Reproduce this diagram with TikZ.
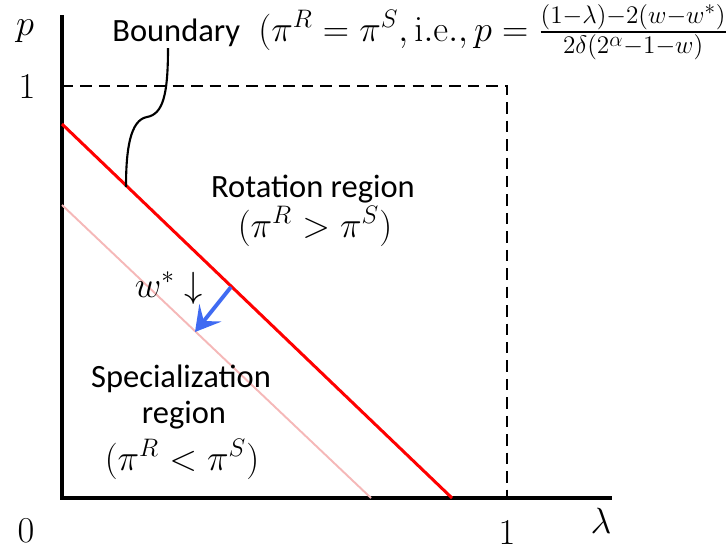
\documentclass[tikz,border=0pt]{standalone}
\usepackage[no-math]{fontspec}
\setmainfont{Carlito}
\usepackage{amsmath}
\DeclareMathSizes{20}{20}{15}{12}
\usetikzlibrary{arrows.meta,calc,positioning}
\definecolor{lightred}{rgb}{0.96,0.72,0.72}
\definecolor{arrowblue}{rgb}{0.25,0.42,0.95}
\begin{document}
\begin{tikzpicture}[x=0.02cm,y=-0.02cm,
    lbl/.style={font=\fontsize{18.5}{22}\selectfont},
    mlbl/.style={font=\fontsize{20}{24}\selectfont},
    axisline/.style={line width=2.3pt},
    guide/.style={line width=1.4pt,dash pattern=on 6.5pt off 4pt}]
        \useasboundingbox (0,0) rectangle (727,552);
        % Axes
        \coordinate (origin) at (62,498);
        \coordinate (ptop) at (62,15);
        \coordinate (lend) at (612,498);
        \draw[axisline] (ptop) -- (origin) -- (lend);
        % Axis labels and ticks
        \node[mlbl,anchor=base] (plbl) at (25,35) {$p$};
        \node[mlbl,anchor=base] (pone) at (27,98) {$1$};
        \node[mlbl,anchor=base] (zero) at (26,542) {$0$};
        \node[mlbl,anchor=base] (lone) at (507,544) {$1$};
        \node[mlbl,anchor=base] (llbl) at (601,533) {$\lambda$};
        % Unit square (dashed)
        \coordinate (py1) at (62,86);
        \coordinate (corner) at (507,86);
        \coordinate (lx1) at (507,498);
        \draw[guide] (py1) -- (corner) -- (lx1);
        % Boundary lines
        \coordinate (r1) at (62,124);
        \coordinate (r2) at (452,498);
        \coordinate (s1) at (62,205);
        \coordinate (s2) at (371,498);
        \draw[lightred, line width=1.1pt] (s1) -- (s2);
        \draw[red, line width=1.7pt] (r1) -- (r2);
        % Shift of the boundary
        \coordinate (shfrom) at (231,287);
        \coordinate (shto) at (195,332);
        \draw[arrowblue, line width=2.2pt, -{Stealth[length=14pt,width=16pt,inset=6pt]}] (shfrom) -- (shto);
        \node[mlbl,anchor=base] (wlbl) at (169,297) {$w^{*}\downarrow$};
        % Label the boundary
        \node[lbl,anchor=base west,inner sep=0pt] (bword) at (112,41) {Boundary};
        \node[mlbl,inner sep=0pt,right=10pt of bword.base east,anchor=base west] (bformula)
          {$(\pi^{R}=\pi^{S}, \mathrm{i.e.}, p=\frac{(1-\lambda)-2(w-w^{*})}{2\delta(2^{\alpha}-1-w)})$};
        \coordinate (btop) at (168,48);
        \coordinate (bpt) at (126,187);
        \draw[line width=1.2pt] (btop) .. controls (168,95) and (163,114) .. (147,117)
          .. controls (130,120) and (126,150) .. (bpt);
        % Label the regions
        \node[lbl,anchor=base] (rot) at (313,197) {Rotation region};
        \node[mlbl,anchor=base] (rotc) at (315,237) {$(\pi^{R}>\pi^{S})$};
        \node[lbl,anchor=base] (spec) at (181,387) {Specialization};
        \node[lbl,anchor=base] (specr) at (184,423) {region};
        \node[mlbl,anchor=base] (specc) at (182,470) {$(\pi^{R}<\pi^{S})$};
      \end{tikzpicture}
\end{document}
